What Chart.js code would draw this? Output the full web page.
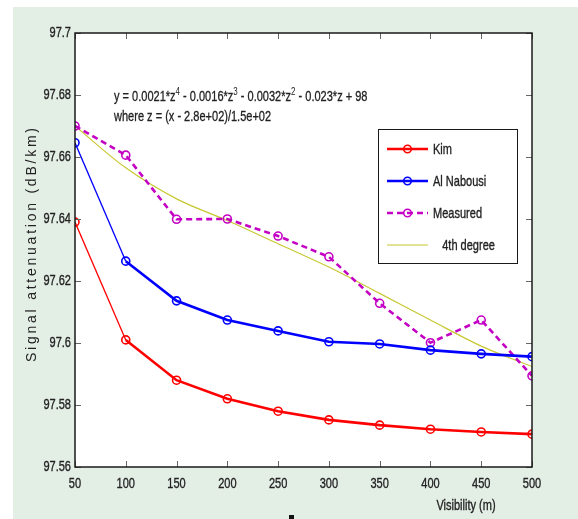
<!DOCTYPE html>
<html>
<head>
<meta charset="utf-8">
<script src="https://cdn.jsdelivr.net/npm/chart.js@4.4.0/dist/chart.umd.min.js"></script>
<style>
    body { margin: 0; background: #fff; }
    canvas { display: block; }
</style>
</head>
<body>
<canvas id="grafico" width="578" height="519"></canvas>
<script>
var visibilidade = [50, 100, 150, 200, 250, 300, 350, 400, 450, 500];
var kim = [97.639, 97.601, 97.588, 97.582, 97.578, 97.5752, 97.5735, 97.5722, 97.5713, 97.5706];
var alNabousi = [97.6646, 97.6264, 97.6136, 97.6074, 97.6039, 97.6004, 97.5997, 97.5977, 97.5965, 97.5956];
var medido = [97.670, 97.6606, 97.6399, 97.640, 97.6345, 97.6278, 97.6128, 97.6001, 97.6074, 97.5894];
var ajuste4 = [97.670, 97.6565, 97.6465, 97.6395, 97.632, 97.6245, 97.616, 97.6074, 97.599, 97.5924];

var yTicks = [97.56, 97.58, 97.6, 97.62, 97.64, 97.66, 97.68, 97.7];
var xTitulo = "Visibility (m)";
var yTitulo = "Signal attenuation (dB/km)";
var formula = ["y = 0.0021*z^4 - 0.0016*z^3 - 0.0032*z^2 - 0.023*z + 98",
               "where z = (x - 2.8e+02)/1.5e+02"];

var fonte = '"Liberation Sans", Arial, sans-serif';
var tamanho = 15;
var aperto = 0.735; // o texto do original é bem estreito
var corTexto = '#222';

function pontos(valores) {
    return visibilidade.map(function (v, i) { return { x: v, y: valores[i] }; });
}

// primeiro trecho de Kim e Al Nabousi sai mais fino no original
function larguraTrecho(ctx) {
    return ctx.p0DataIndex === 0 ? 1.3 : 2.6;
}

var context = document.getElementById("grafico");

function textoEstreito(ctx, texto, x, y, alinhamento) {
    ctx.save();
    ctx.translate(x, y);
    ctx.scale(aperto, 1);
    ctx.font = tamanho + 'px ' + fonte;
    ctx.textAlign = alinhamento;
    ctx.textBaseline = 'middle';
    ctx.strokeStyle = corTexto;
    ctx.lineWidth = 0.35;
    ctx.fillText(texto, 0, 0);
    ctx.strokeText(texto, 0, 0);
    ctx.restore();
}

function textoComExpoente(ctx, texto, x, y) {
    ctx.save();
    ctx.translate(x, y);
    ctx.scale(0.76, 1);
    ctx.textAlign = 'left';
    ctx.textBaseline = 'middle';
    ctx.strokeStyle = corTexto;
    ctx.lineWidth = 0.3;
    var partes = texto.split(/\^(\d)/);
    var px = 0;
    for (var i = 0; i < partes.length; i++) {
        if (i % 2 === 1) {
            ctx.font = (tamanho - 4.5) + 'px ' + fonte;
            ctx.fillText(partes[i], px, -5);
        } else {
            ctx.font = (tamanho - 0.5) + 'px ' + fonte;
            ctx.fillText(partes[i], px, 0);
            ctx.strokeText(partes[i], px, 0);
        }
        px += ctx.measureText(partes[i]).width;
    }
    ctx.restore();
}

var figura = {
    id: 'figura',
    beforeDraw: function (chart) {
        var ctx = chart.ctx;
        var a = chart.chartArea;
        ctx.save();
        ctx.fillStyle = '#fff';
        ctx.fillRect(0, 0, chart.width, chart.height);
        ctx.fillStyle = '#e3eee5';
        ctx.fillRect(13, 7, chart.width - 13, chart.height - 7);
        ctx.fillStyle = '#fff';
        ctx.fillRect(a.left, a.top, a.right - a.left, a.bottom - a.top);
        ctx.fillStyle = '#111';
        ctx.fillRect(289, 515, 5, 4);
        ctx.restore();
    },
    afterDraw: function (chart) {
        var ctx = chart.ctx;
        var a = chart.chartArea;
        var sx = chart.scales.x;
        var sy = chart.scales.y;
        ctx.save();

        // marcas dos ticks para dentro, estilo matlab
        ctx.strokeStyle = '#666';
        ctx.lineWidth = 1;
        ctx.beginPath();
        sx.ticks.forEach(function (t) {
            var px = Math.round(sx.getPixelForValue(t.value)) + 0.5;
            ctx.moveTo(px, a.bottom); ctx.lineTo(px, a.bottom - 6);
            ctx.moveTo(px, a.top); ctx.lineTo(px, a.top + 6);
        });
        sy.ticks.forEach(function (t) {
            var py = Math.round(sy.getPixelForValue(t.value)) + 0.5;
            ctx.moveTo(a.left, py); ctx.lineTo(a.left + 6, py);
            ctx.moveTo(a.right, py); ctx.lineTo(a.right - 6, py);
        });
        ctx.stroke();

        ctx.strokeStyle = '#1a1a1a';
        ctx.lineWidth = 1.5;
        ctx.strokeRect(a.left, a.top, a.right - a.left, a.bottom - a.top);

        // rótulos dos ticks
        ctx.fillStyle = corTexto;
        sx.ticks.forEach(function (t) {
            textoEstreito(ctx, String(t.value), sx.getPixelForValue(t.value), a.bottom + 17, 'center');
        });
        sy.ticks.forEach(function (t) {
            textoEstreito(ctx, String(Number(t.value.toFixed(2))), a.left - 4, sy.getPixelForValue(t.value), 'right');
        });

        // equação do ajuste
        ctx.fillStyle = corTexto;
        textoComExpoente(ctx, formula[0], 114, 97);
        textoComExpoente(ctx, formula[1], 114, 117);

        // legenda
        var lx = 378, ly = 129, lw = 139, lh = 134;
        ctx.fillStyle = '#fff';
        ctx.fillRect(lx, ly, lw, lh);
        ctx.strokeStyle = '#1a1a1a';
        ctx.lineWidth = 1;
        ctx.strokeRect(lx + 0.5, ly + 0.5, lw, lh);
        chart.data.datasets.forEach(function (ds, i) {
            var y = ly + 20 + i * 32;
            ctx.strokeStyle = ds.borderColor;
            ctx.lineWidth = ds.pointRadius > 0 ? 2.4 : 1.2;
            ctx.setLineDash(ds.borderDash || []);
            ctx.beginPath();
            ctx.moveTo(387, y); ctx.lineTo(428, y);
            ctx.stroke();
            ctx.setLineDash([]);
            if (ds.pointRadius > 0) {
                ctx.lineWidth = 1.6;
                ctx.beginPath();
                ctx.arc(407.5, y, 3.8, 0, Math.PI * 2);
                ctx.stroke();
            }
            ctx.fillStyle = corTexto;
            textoEstreito(ctx, ds.label, 433, y + 1, 'left');
        });

        // títulos dos eixos
        ctx.fillStyle = corTexto;
        textoEstreito(ctx, xTitulo, 466, 506, 'center');

        ctx.font = '14px ' + fonte;
        ctx.textBaseline = 'middle';
        var larg = ctx.measureText(yTitulo).width;
        var espaco = (234 - larg) / (yTitulo.length - 1);
        ctx.translate(32, 245);
        ctx.rotate(-Math.PI / 2);
        ctx.textAlign = 'left';
        var x = -117;
        for (var k = 0; k < yTitulo.length; k++) {
            ctx.fillText(yTitulo[k], x, 0);
            x += ctx.measureText(yTitulo[k]).width + espaco;
        }
        ctx.restore();
    }
};

var chartGraph = new Chart(context, {
    type: 'line',
    data: {
        datasets: [{
            label: 'Kim',
            data: pontos(kim),
            borderColor: '#ff0000',
            borderWidth: 2.6,
            segment: { borderWidth: larguraTrecho },
            pointRadius: 4,
            pointBorderWidth: 1.6,
            pointBorderColor: '#ff0000',
            pointBackgroundColor: 'transparent',
            tension: 0
        }, {
            label: 'Al Nabousi',
            data: pontos(alNabousi),
            borderColor: '#0000ff',
            borderWidth: 2.6,
            segment: { borderWidth: larguraTrecho },
            pointRadius: 4,
            pointBorderWidth: 1.6,
            pointBorderColor: '#0000ff',
            pointBackgroundColor: 'transparent',
            tension: 0
        }, {
            label: 'Measured',
            data: pontos(medido),
            borderColor: '#c400c4',
            borderWidth: 2.6,
            borderDash: [6, 4],
            pointRadius: 4,
            pointBorderWidth: 1.6,
            pointBorderColor: '#c400c4',
            pointBackgroundColor: 'transparent',
            tension: 0
        }, {
            label: '   4th degree',
            data: pontos(ajuste4),
            borderColor: '#c8c832',
            borderWidth: 1.2,
            pointRadius: 0,
            cubicInterpolationMode: 'monotone'
        }]
    },
    options: {
        responsive: false,
        animation: false,
        events: [],
        layout: {
            padding: { left: 0, top: 33, right: 46, bottom: 0 }
        },
        plugins: {
            legend: { display: false },
            tooltip: { enabled: false }
        },
        scales: {
            x: {
                type: 'linear',
                min: 50,
                max: 500,
                afterFit: function (s) { s.height = 52; },
                ticks: { stepSize: 50, autoSkip: false, display: false },
                grid: { display: false, drawTicks: false },
                border: { display: false }
            },
            y: {
                min: 97.56,
                max: 97.7,
                afterFit: function (s) { s.width = 75; },
                afterBuildTicks: function (s) {
                    s.ticks = yTicks.map(function (v) { return { value: v }; });
                },
                ticks: { display: false },
                grid: { display: false, drawTicks: false },
                border: { display: false }
            }
        }
    },
    plugins: [figura]
});
</script>
</body>
</html>
